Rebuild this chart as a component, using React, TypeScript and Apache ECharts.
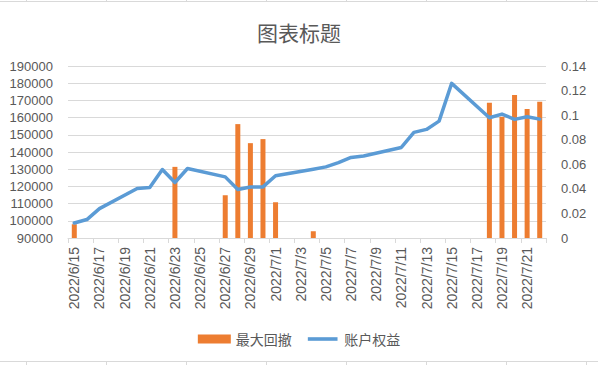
import React, { useEffect, useRef } from "react";
import * as echarts from "echarts";

const dates: string[] = [
  "2022/6/15", "2022/6/16", "2022/6/17", "2022/6/18", "2022/6/19", "2022/6/20", "2022/6/21",
  "2022/6/22", "2022/6/23", "2022/6/24", "2022/6/25", "2022/6/26", "2022/6/27", "2022/6/28",
  "2022/6/29", "2022/6/30", "2022/7/1", "2022/7/2", "2022/7/3", "2022/7/4", "2022/7/5",
  "2022/7/6", "2022/7/7", "2022/7/8", "2022/7/9", "2022/7/10", "2022/7/11", "2022/7/12",
  "2022/7/13", "2022/7/14", "2022/7/15", "2022/7/16", "2022/7/17", "2022/7/18", "2022/7/19",
  "2022/7/20", "2022/7/21", "2022/7/22",
];

// 最大回撤 (right axis)
const maxDrawdown: (number | null)[] = [
  0.0112, 0, 0, null, null, 0, 0,
  0, 0.0579, 0, null, null, 0.0348, 0.0927,
  0.0772, 0.0805, 0.0291, null, null, 0.0055, 0,
  0, 0, 0, null, null, 0, 0,
  0, 0, 0, null, null, 0.1101, 0.0987,
  0.1163, 0.1049, 0.1109,
];

// 账户权益 (left axis)
const equity: (number | null)[] = [
  98740, 100720, 107100, null, null, 118770, 119350,
  129840, 122270, 130420, null, null, 125530, 118190,
  119700, 119700, 126230, null, null, 129950, 131350,
  133800, 136830, 137700, null, null, 142650, 151390,
  153130, 157970, 179920, null, null, 159890, 162040,
  158960, 160470, 159130,
];

const leftTicks = { min: 90000, max: 190000, interval: 10000 };
const rightTicks = { min: 0, max: 0.14, interval: 0.02 };

export default function App() {
  const ref = useRef<HTMLDivElement>(null);
  useEffect(() => {
    if (!ref.current) return;
    const chart = echarts.init(ref.current, undefined, { renderer: "svg" });
    const font = "'Liberation Sans', 'Noto Sans CJK SC', sans-serif";
    const cellLines: any[] = [];
    cellLines.push({ type: "line", shape: { x1: 0, y1: 1.5, x2: 598, y2: 1.5 }, style: { stroke: "#d9d9d9", lineWidth: 1 } });
    cellLines.push({ type: "line", shape: { x1: 0, y1: 361.5, x2: 598, y2: 361.5 }, style: { stroke: "#d9d9d9", lineWidth: 1 } });
    for (let k = 0; k < 8; k++) {
      const x = 26.5 + 80 * k;
      cellLines.push({ type: "line", shape: { x1: x, y1: 0, x2: x, y2: 1.5 }, style: { stroke: "#d9d9d9", lineWidth: 1 } });
      cellLines.push({ type: "line", shape: { x1: x, y1: 361.5, x2: x, y2: 365 }, style: { stroke: "#d9d9d9", lineWidth: 1 } });
    }
    chart.setOption({
      animation: false,
      backgroundColor: "#ffffff",
      textStyle: { fontFamily: font },
      title: {
        text: "图表标题",
        left: "center",
        top: 21,
        padding: 0,
        textStyle: {
          fontFamily: "'Noto Sans CJK SC', sans-serif",
          fontSize: 21,
          fontWeight: "normal",
          color: "#595959",
        },
      },
      legend: {
        left: "center",
        top: 327,
        itemWidth: 33,
        itemHeight: 9,
        itemGap: 16,
        textStyle: { fontFamily: "'Noto Sans CJK SC', sans-serif", fontSize: 14, color: "#595959" },
        data: [
          { name: "最大回撤", icon: "rect" },
          { name: "账户权益", icon: "path://M0,0 M0,3 L33,3 L33,7 L0,7 Z M33,10" },
        ],
      },
      graphic: cellLines,
      grid: { left: 68, right: 52, top: 66, bottom: 127, containLabel: false },
      xAxis: {
        type: "category",
        data: dates,
        boundaryGap: true,
        axisLine: { lineStyle: { color: "#d9d9d9", width: 1 } },
        axisTick: { show: true, interval: 1, length: 5, alignWithLabel: false, lineStyle: { color: "#d9d9d9" } },
        axisLabel: {
          interval: 1,
          rotate: 90,
          margin: 9,
          fontSize: 14,
          color: "#595959",
          fontFamily: font,
        },
        splitLine: { show: false },
      },
      yAxis: [
        {
          type: "value",
          ...leftTicks,
          position: "left",
          axisLine: { show: false },
          axisTick: { show: false },
          axisLabel: {
            fontSize: 13,
            color: "#595959",
            margin: 15,
            fontFamily: font,
            formatter: (v: number) => String(v),
          },
          splitLine: { show: true, lineStyle: { color: "#d9d9d9", width: 1 } },
        },
        {
          type: "value",
          ...rightTicks,
          position: "right",
          axisLine: { show: false },
          axisTick: { show: false },
          axisLabel: {
            fontSize: 13,
            color: "#595959",
            margin: 15,
            fontFamily: font,
            formatter: (v: number) => String(Math.round(v * 100) / 100),
          },
          splitLine: { show: false },
        },
      ],
      series: [
        {
          name: "最大回撤",
          type: "bar",
          yAxisIndex: 1,
          data: maxDrawdown,
          barWidth: 5,
          itemStyle: { color: "#ed7d31" },
        },
        {
          name: "账户权益",
          type: "line",
          yAxisIndex: 0,
          data: equity,
          connectNulls: true,
          symbol: "none",
          showSymbol: false,
          lineStyle: { color: "#5b9bd5", width: 3.5, join: "round", cap: "round" },
          itemStyle: { color: "#5b9bd5" },
        },
      ],
    });
    return () => chart.dispose();
  }, []);
  return (
    <div
      ref={ref}
      style={{ position: "fixed", left: 0, top: 0, width: 598, height: 365 }}
    />
  );
}
